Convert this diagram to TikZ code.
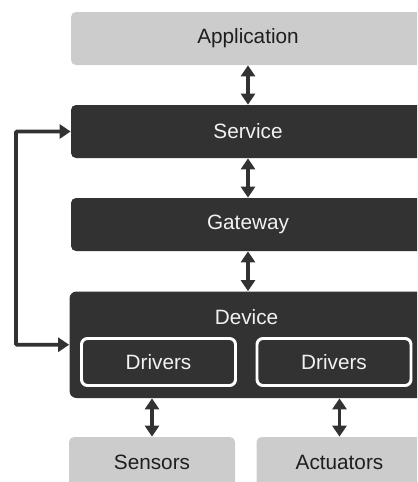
\documentclass[tikz,border=0pt]{standalone}
\usepackage{fontspec}
\setmainfont{Liberation Sans}
\usepackage{tikz}
\usetikzlibrary{arrows.meta}

\definecolor{layerdark}{HTML}{323232}
\definecolor{layerlight}{HTML}{CCCCCC}
\definecolor{textdark}{HTML}{1E1E1E}
\definecolor{textlight}{HTML}{F2F2F2}

\tikzset{
	layer/.style={rectangle, rounded corners=1mm, inner sep=0pt, font=\fontsize{11.8}{14}\selectfont},
	darklayer/.style={layer, fill=layerdark, text=textlight},
	lightlayer/.style={layer, fill=layerlight, text=textdark},
	driverbox/.style={darklayer, draw=white, line width=1.7pt, rounded corners=1.2mm,
		minimum width=3.08cm, minimum height=0.94cm},
	link/.style={draw=layerdark, line width=2.1pt,
		arrows={{Triangle[length=2.2mm, width=2.8mm]}-{Triangle[length=2.2mm, width=2.8mm]}}},
}

\begin{document}
\begin{tikzpicture}
		\path[use as bounding box, clip] (0, 0) rectangle (8.34, -9.64);

		%%% Stack of layers
		\node[lightlayer, minimum width=7.08cm, minimum height=1.06cm] (app) at (4.96, -0.77) {Application};
		\node[darklayer, minimum width=7.08cm, minimum height=1.06cm] (srv) at (4.96, -2.63) {Service};
		\node[darklayer, minimum width=7.08cm, minimum height=1.06cm] (gw) at (4.96, -4.49) {Gateway};
		\node[darklayer, rounded corners=1.4mm, minimum width=7.12cm, minimum height=2.13cm] (dev) at (4.95, -6.895) {};
		\node[darklayer] (devlabel) at (4.93, -6.34) {Device};

		%%% Drivers inside the device
		\node[driverbox] (drv1) at (3.17, -7.24) {Drivers};
		\node[driverbox] (drv2) at (6.68, -7.24) {Drivers};

		%%% Hardware
		\node[lightlayer, minimum width=3.32cm, minimum height=1.1cm] (sens) at (3.04, -9.29) {\raisebox{0.1cm}{Sensors}};
		\node[lightlayer, minimum width=3.32cm, minimum height=1.1cm] (act) at (6.79, -9.29) {\raisebox{0.1cm}{Actuators}};

		%%% Links between layers
		\draw[link] (app.south) -- (srv.north);
		\draw[link] (srv.south) -- (gw.north);
		\draw[link] (gw.south) -- (gw.south |- dev.north);
		\draw[link] (sens.north |- dev.south) -- (sens.north);
		\draw[link] (act.north |- dev.south) -- (act.north);

		%%% Loop from device back to service
		\coordinate (loop) at (0.32, 0);
		\draw[link, rounded corners=0.5pt] (srv.west) -- (srv.west -| loop) -- (dev.west -| loop) -- (dev.west);
\end{tikzpicture}
\end{document}
